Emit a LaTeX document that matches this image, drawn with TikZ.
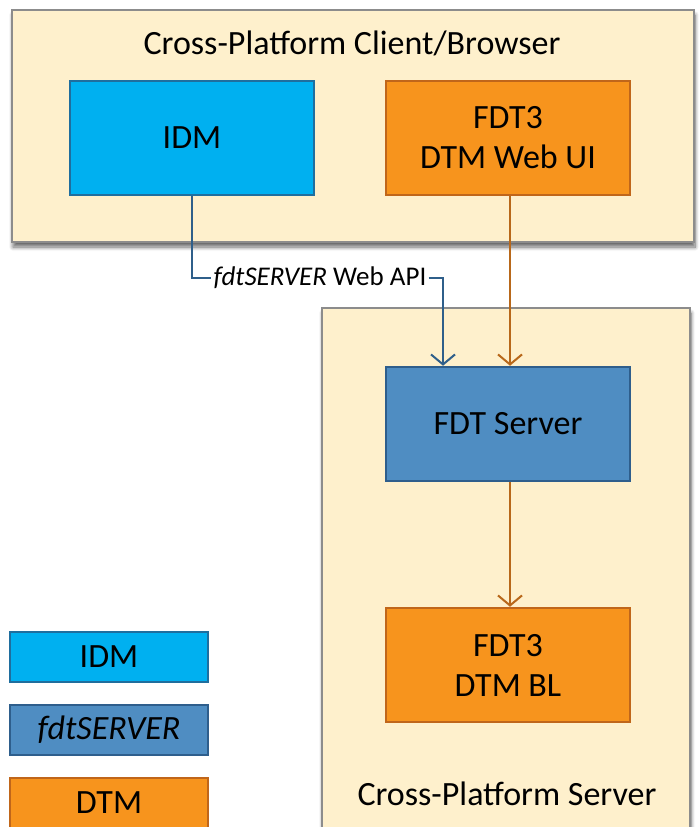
\documentclass[tikz,border=0pt]{standalone}
\usepackage{fontspec}
\setmainfont{Carlito}
\usetikzlibrary{arrows.meta,shadows.blur}
\definecolor{cont}{HTML}{FEF0CC}
\definecolor{contb}{HTML}{8C8C8C}
\definecolor{idmf}{HTML}{00B0F0}
\definecolor{idmb}{HTML}{1F6E9E}
\definecolor{srvf}{HTML}{4F8DC2}
\definecolor{srvb}{HTML}{2E5E8C}
\definecolor{dtmf}{HTML}{F7941D}
\definecolor{dtmb}{HTML}{C0661A}
\definecolor{blueln}{HTML}{2F5F8A}
\definecolor{orln}{HTML}{B8681A}
\tikzset{
  container/.style={draw=contb,fill=cont,line width=1.2pt,blur shadow={shadow blur steps=8,shadow xshift=1pt,shadow yshift=-5pt,shadow blur radius=4pt,shadow opacity=60}},
  idmbox/.style={draw=idmb,fill=idmf,line width=2.5pt,font=\fontsize{34}{40}\selectfont},
  srvbox/.style={draw=srvb,fill=srvf,line width=2.5pt,font=\fontsize{34}{40}\selectfont},
  dtmbox/.style={draw=dtmb,fill=dtmf,line width=2.5pt,align=center,font=\fontsize{34}{40}\selectfont},
  lbl/.style={font=\fontsize{34}{40}\selectfont},
  conn/.style={line width=2pt,-{Straight Barb[length=10pt,width=24pt,line width=2pt]}},
}
\begin{document}
\begin{tikzpicture}[x=1pt,y=-1pt]
\useasboundingbox (0,0) rectangle (699,827);
% containers
\draw[container] (12,10) rectangle (694,242);
\node[lbl] (ttop) at (352,43) {Cross-Platform Client/Browser};
\draw[container] (322,308) rectangle (690,840);
\node[lbl] (tbot) at (507,794) {Cross-Platform Server};
% boxes
\node[idmbox,minimum width=244pt,minimum height=114pt] (idm) at (192,138) {IDM};
\node[dtmbox,minimum width=244pt,minimum height=114pt] (ui) at (508,138) {FDT3\\DTM Web UI};
\node[srvbox,minimum width=244pt,minimum height=114pt] (srv) at (508,424) {FDT Server};
\node[dtmbox,minimum width=244pt,minimum height=114pt] (bl) at (508,665) {FDT3\\DTM BL};
% legend
\node[idmbox,minimum width=198pt,minimum height=50pt] (lidm) at (109,657) {IDM};
\node[srvbox,minimum width=198pt,minimum height=50pt] (lsrv) at (109,730) {\itshape fdtSERVER};
\node[dtmbox,minimum width=198pt,minimum height=50pt] (ldtm) at (109,803) {DTM};
% connectors
\node[font=\fontsize{27}{32}\selectfont,inner sep=2pt] (api) at (320,278) {\itshape fdtSERVER\upshape{} Web API};
\draw[blueln,line width=2pt] (idm.south) |- (api.west);
\draw[conn,blueln] (api.east) -| ([xshift=-65pt]srv.north);
\draw[conn,orln] ([xshift=2pt]ui.south) -- ([xshift=2pt]srv.north);
\draw[conn,orln] ([xshift=2pt]srv.south) -- ([xshift=2pt]bl.north);
\end{tikzpicture}
\end{document}
